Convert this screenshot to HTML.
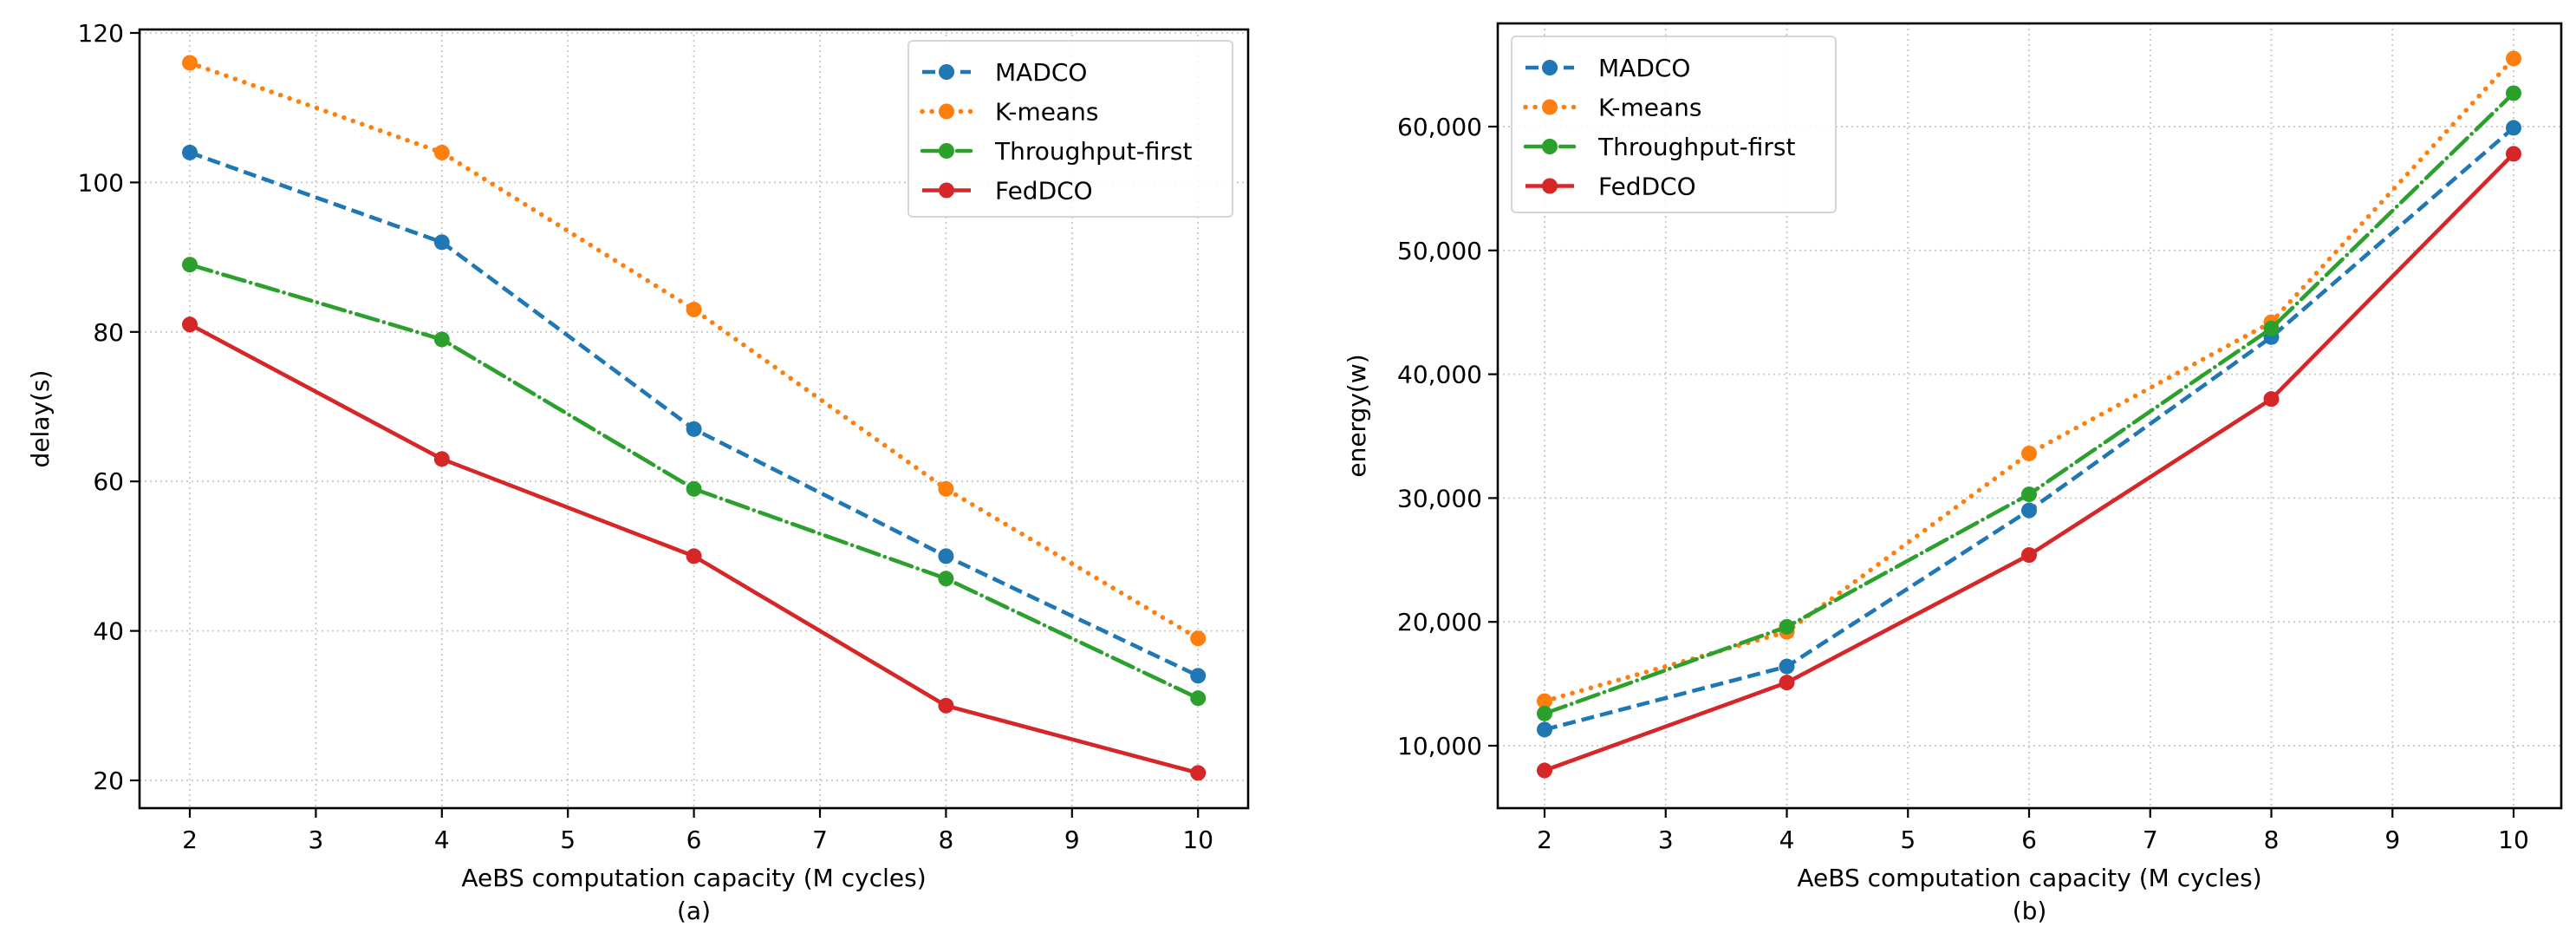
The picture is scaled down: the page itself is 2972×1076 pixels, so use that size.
<!DOCTYPE html>
<html><head><meta charset="utf-8"><style>
html,body{margin:0;padding:0;background:#fff;}
svg{display:block;font-family:"DejaVu Sans","Liberation Sans",sans-serif;}
</style></head><body>
<svg id="fig" width="2972" height="1076" viewBox="0 0 2972 1076" xmlns="http://www.w3.org/2000/svg"></svg>
<script>
const categories=[2,4,6,8,10];
const xTicks=[2,3,4,5,6,7,8,9,10];
const seriesNames=["MADCO","K-means","Throughput-first","FedDCO"];
const delayMADCO=[104,92,67,50,34];
const delayKmeans=[116,104,83,59,39];
const delayThroughput=[89,79,59,47,31];
const delayFedDCO=[81,63,50,30,21];
const delayTicks=[20,40,60,80,100,120];
const energyMADCO=[11300,16400,29000,43000,59900];
const energyKmeans=[13600,19200,33600,44200,65500];
const energyThroughput=[12600,19600,30300,43700,62700];
const energyFedDCO=[8000,15100,25400,38000,57800];
const energyTicks=[10000,20000,30000,40000,50000,60000];

const NS="http://www.w3.org/2000/svg";
const svg=document.getElementById('fig');
const colors=["#1f77b4","#ff7f0e","#2ca02c","#d62728"];
const dashes=["15,7","0.1,11","26,7,0.1,7",""];
function mk(tag,attrs,parent){const e=document.createElementNS(NS,tag);for(const k in attrs)e.setAttribute(k,attrs[k]);(parent||svg).appendChild(e);return e;}

function panel(cfg){
  const g=mk('g',{});
  
  
  const xs=v=>cfg.x0+(v-2)*cfg.xu;
  const ys=v=>cfg.y0-(v-cfg.v0)*cfg.yu;
  xTicks.forEach(t=>{const l=mk('line',{x1:xs(t),x2:xs(t),y1:cfg.top,y2:cfg.bottom,stroke:'#c8c8c8','stroke-width':1.8,'stroke-dasharray':'2,4'},g);
    });
  cfg.ticks.forEach(t=>{const l=mk('line',{x1:cfg.left,x2:cfg.right,y1:ys(t),y2:ys(t),stroke:'#c8c8c8','stroke-width':1.8,'stroke-dasharray':'2,4'},g);
    });
  cfg.data.forEach((arr,i)=>{
    const pts=arr.map((v,j)=>xs(categories[j])+','+ys(v)).join(' ');
    const lw=i==1?5.5:4.6;
    const pl=mk('polyline',{points:pts,fill:'none',stroke:colors[i],'stroke-width':lw,'stroke-dasharray':dashes[i],'stroke-linecap':(i==1||i==2)?'round':'butt'},g);
    
    
    arr.forEach((v,j)=>{const c=mk('circle',{cx:xs(categories[j]),cy:ys(v),r:9,fill:colors[i]},g);
      
      });
  });
  const fr=mk('rect',{x:cfg.left,y:cfg.top,width:cfg.right-cfg.left,height:cfg.bottom-cfg.top,fill:'none',stroke:'#000','stroke-width':2.6},g);
  
  xTicks.forEach(t=>{mk('line',{x1:xs(t),x2:xs(t),y1:cfg.bottom,y2:cfg.bottom+11,stroke:'#000','stroke-width':2.2},g);
    const tx=mk('text',{x:xs(t),y:cfg.bottom+46,'text-anchor':'middle','font-size':28,fill:'#000'},g);tx.textContent=t;
    });
  cfg.ticks.forEach(t=>{mk('line',{x1:cfg.left-11,x2:cfg.left,y1:ys(t),y2:ys(t),stroke:'#000','stroke-width':2.2},g);
    const tx=mk('text',{x:cfg.left-18,y:ys(t)+10,'text-anchor':'end','font-size':28,fill:'#000'},g);tx.textContent=cfg.fmt(t);
    });
  const xl=mk('text',{x:(cfg.left+cfg.right)/2,y:1022,'text-anchor':'middle','font-size':28},g);xl.textContent='AeBS computation capacity (M cycles)';
  
  const sl=mk('text',{x:(cfg.left+cfg.right)/2,y:1060,'text-anchor':'middle','font-size':28},g);sl.textContent=cfg.sub;
  
  const yl=mk('text',{x:cfg.ylx,y:(cfg.top+cfg.bottom)/2,'text-anchor':'middle','font-size':28,transform:`rotate(-90 ${cfg.ylx} ${(cfg.top+cfg.bottom)/2})`},g);yl.textContent=cfg.ylabel;
  
  const lg=mk('g',{},g);
  mk('rect',{x:cfg.lx,y:cfg.ly,width:374,height:203,rx:5,fill:'#fff','fill-opacity':0.85,stroke:'#d6d6d6','stroke-width':2},lg);
  seriesNames.forEach((n,i)=>{const yy=cfg.ly+36+i*45.5;
    const e=mk('g',{},lg);
    mk('line',{x1:cfg.lx+16,x2:cfg.lx+72,y1:yy,y2:yy,stroke:colors[i],'stroke-width':i==1?5.5:4.6,'stroke-dasharray':dashes[i],'stroke-linecap':(i==1||i==2)?'round':'butt'},e);
    mk('circle',{cx:cfg.lx+44,cy:yy,r:9,fill:colors[i]},e);
    const t=mk('text',{x:cfg.lx+100,y:yy+10,'font-size':28},e);t.textContent=n;});
}
panel({name:'delay-chart',left:161,right:1440,top:34,bottom:932,x0:219,xu:145.4,y0:900,v0:20,yu:172.4/20,
  ticks:delayTicks,fmt:t=>t,data:[delayMADCO,delayKmeans,delayThroughput,delayFedDCO],
  sub:'(a)',ylabel:'delay(s)',ylx:56,lx:1048,ly:47});
panel({name:'energy-chart',left:1728,right:2955,top:27,bottom:932,x0:1782,xu:139.75,y0:860,v0:10000,yu:142.8/10000,
  ticks:energyTicks,fmt:t=>t.toLocaleString('en-US'),data:[energyMADCO,energyKmeans,energyThroughput,energyFedDCO],
  sub:'(b)',ylabel:'energy(w)',ylx:1575,lx:1744,ly:42});
</script>
</body></html>
